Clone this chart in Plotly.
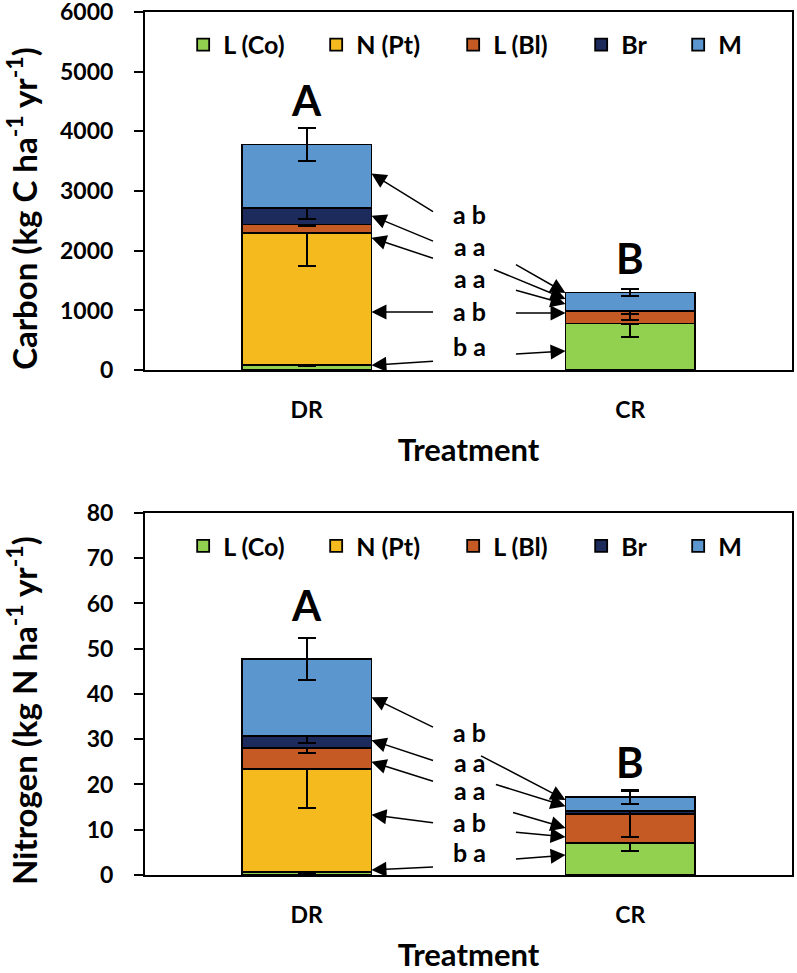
import plotly.graph_objects as go
from plotly.subplots import make_subplots

treatments = ["DR", "CR"]
components = ["L (Co)", "N (Pt)", "L (Bl)", "Br", "M"]
colors = ["#92D050", "#F5BA1E", "#C55A24", "#1C2A5C", "#5B97CE"]

# Carbon (kg C ha-1 yr-1): per component, values for [DR, CR]
carbon = {
    "L (Co)": [90, 780],
    "N (Pt)": [2210, 0],
    "L (Bl)": [140, 205],
    "Br": [270, 10],
    "M": [1070, 305],
}
carbon_err = {
    "L (Co)": [20, 220],
    "N (Pt)": [550, 0],
    "L (Bl)": [25, 150],
    "Br": [170, 60],
    "M": [275, 55],
}
# Nitrogen (kg N ha-1 yr-1)
nitrogen = {
    "L (Co)": [0.7, 7.0],
    "N (Pt)": [22.7, 0],
    "L (Bl)": [4.7, 6.5],
    "Br": [2.6, 0.6],
    "M": [17.0, 3.1],
}
nitrogen_err = {
    "L (Co)": [0.2, 1.7],
    "N (Pt)": [8.6, 0],
    "L (Bl)": [1.1, 5.0],
    "Br": [1.5, 0.6],
    "M": [4.7, 1.6],
}

group_letters = ["A", "B"]
sig_labels = ["a b", "a a", "a a", "a b", "b a"]

FONT = "Lato"
legend_widths = [88, 92, 83, 52, 40]

fig = make_subplots(rows=2, cols=1, vertical_spacing=0.1655)

for row, data, err, leg in [(1, carbon, carbon_err, "legend"), (2, nitrogen, nitrogen_err, "legend2")]:
    for comp, col, lw in zip(components, colors, legend_widths):
        fig.add_trace(
            go.Bar(
                x=treatments, y=data[comp], name=comp,
                marker=dict(color=col, line=dict(color="black", width=1.8)),
                error_y=dict(type="data", array=err[comp], color="black", thickness=2, width=9),
                width=0.4, legend=leg, showlegend=True, legendwidth=lw,
            ),
            row=row, col=1,
        )

fig.update_layout(
    width=797, height=973,
    barmode="stack",
    plot_bgcolor="white", paper_bgcolor="white",
    margin=dict(l=145, r=5, t=12, b=98, autoexpand=False),
    font=dict(family=FONT, size=23, color="black", weight="bold"),
    legend=dict(orientation="h", x=0.059, xanchor="left", y=0.962, yanchor="middle",
                traceorder="normal", font=dict(size=25), bgcolor="rgba(0,0,0,0)"),
    legend2=dict(orientation="h", x=0.059, xanchor="left", y=0.381, yanchor="middle",
                 traceorder="normal", font=dict(size=25), bgcolor="rgba(0,0,0,0)"),
)

fig.update_layout(yaxis=dict(domain=[0.585, 1.0]), yaxis2=dict(domain=[0.0, 0.4195]))

axis_common = dict(showline=True, linecolor="black", linewidth=2, mirror=True, showgrid=False,
                   zeroline=False, automargin=False)
fig.update_xaxes(**axis_common, range=[-0.5, 1.5], ticks="", ticklabelstandoff=18,
                 title=dict(text="Treatment", font=dict(size=31), standoff=18))
fig.update_yaxes(**axis_common, ticks="outside", ticklen=9, tickwidth=2, tickcolor="black",
                 ticklabelstandoff=16, ticklabeloverflow="allow")
fig.update_yaxes(range=[0, 6000], dtick=1000, row=1, col=1)
fig.update_yaxes(range=[0, 80], dtick=10, row=2, col=1)

# Y axis titles as rotated paper annotations
fig.add_annotation(x=-0.19, y=0.772, xref="paper", yref="paper", xanchor="center", yanchor="middle",
                   text="Carbon (kg C ha<sup>-1</sup> yr<sup>-1</sup>)", textangle=-90, showarrow=False,
                   font=dict(size=33, family=FONT, weight="bold"))
fig.add_annotation(x=-0.19, y=0.19, xref="paper", yref="paper", xanchor="center", yanchor="middle",
                   text="Nitrogen (kg N ha<sup>-1</sup> yr<sup>-1</sup>)", textangle=-90, showarrow=False,
                   font=dict(size=33, family=FONT, weight="bold"))

# Group letters
for xr, yr, ys in [("x", "y", [4521, 1882]), ("x2", "y2", [59.7, 25.0])]:
    for t, lab, yv in zip(treatments, group_letters, ys):
        fig.add_annotation(x=t, y=yv, xref=xr, yref=yr, text=lab, showarrow=False,
                           font=dict(size=42, family=FONT, weight="bold"))

# Significance labels and arrows (arrow endpoints in data units)
label_x = 0.503
carbon_label_y = [2622, 2084, 1546, 992, 403]
nitrogen_label_y = [31.6, 25.0, 18.8, 11.7, 5.1]

carbon_left = [  # (tail_y, head_y) tail at x=0.395, head at DR bar edge x=0.2
    (2639, 3294), (2151, 2588), (1866, 2218), (975, 975), (151, 84)]
carbon_right = [  # (tail_x, tail_y, head_y) head at CR bar edge x=0.8
    (0.642, 1782, 1294), (0.574, 1697, 1193), (0.642, 1345, 1109), (0.642, 958, 958), (0.642, 269, 319)]
nitrogen_left = [(32.5, 39.3), (25.2, 29.8), (20.6, 25.0), (11.5, 13.3), (1.8, 1.1)]
nitrogen_right = [(0.534, 26.5, 16.6), (0.580, 20.1, 15.2), (0.633, 13.9, 10.4), (0.642, 9.5, 8.4), (0.642, 3.5, 4.4)]

for xr, yr, labys, left, right in [
    ("x", "y", carbon_label_y, carbon_left, carbon_right),
    ("x2", "y2", nitrogen_label_y, nitrogen_left, nitrogen_right),
]:
    for lab, yv in zip(sig_labels, labys):
        fig.add_annotation(x=label_x, y=yv, xref=xr, yref=yr, text=lab, showarrow=False,
                           font=dict(size=25, family=FONT, weight="bold"))
    for ty, hy in left:
        fig.add_annotation(x=0.2, y=hy, ax=0.395, ay=ty, xref=xr, yref=yr, axref=xr, ayref=yr,
                           text="", showarrow=True, arrowhead=2, arrowsize=2, arrowwidth=1.5,
                           arrowcolor="black", standoff=0)
    for tx, ty, hy in right:
        fig.add_annotation(x=0.8, y=hy, ax=tx, ay=ty, xref=xr, yref=yr, axref=xr, ayref=yr,
                           text="", showarrow=True, arrowhead=2, arrowsize=2, arrowwidth=1.5,
                           arrowcolor="black", standoff=0)

fig.write_html("out.html", config={"displayModeBar": False},
               post_script="document.body.style.margin='0';")
